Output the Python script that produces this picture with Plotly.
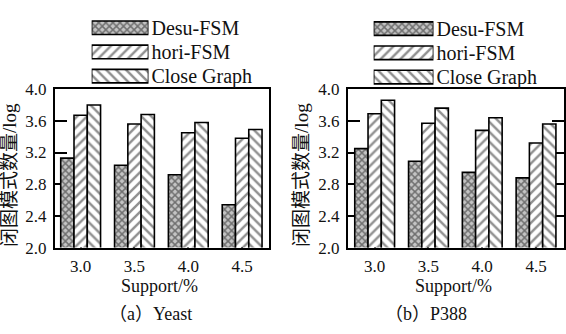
import plotly.graph_objects as go

W, H = 566, 334

support = [3.0, 3.5, 4.0, 4.5]
support_labels = ["3.0", "3.5", "4.0", "4.5"]
series_names = ["Desu-FSM", "hori-FSM", "Close Graph"]

yeast_desu = [3.13, 3.04, 2.92, 2.54]
yeast_hori = [3.67, 3.56, 3.45, 3.38]
yeast_close = [3.80, 3.68, 3.58, 3.49]

p388_desu = [3.25, 3.09, 2.95, 2.88]
p388_hori = [3.69, 3.57, 3.48, 3.32]
p388_close = [3.86, 3.76, 3.64, 3.56]

y_ticks = [2.0, 2.4, 2.8, 3.2, 3.6, 4.0]
y_title = "闭图模式数量/log"
x_title = "Support/%"
captions = ["（a）Yeast", "（b）P388"]

FONT = "Liberation Serif"
CJK_FONT = "Liberation Serif, Noto Sans CJK SC"
INK = "#111111"

patterns = [
    dict(shape="x", fgcolor="#1a1a1a", bgcolor="#c4c4c4", size=5, solidity=0.5),
    dict(shape="/", fgcolor="#222222", bgcolor="#ffffff", size=7, solidity=0.35),
    dict(shape="\\", fgcolor="#222222", bgcolor="#ffffff", size=7, solidity=0.35),
]

def px_x(v):
    return v / W

def px_y(v):
    return 1 - v / H

fig = go.Figure()

panels = [
    dict(xa="x", ya="y", data=[yeast_desu, yeast_hori, yeast_close]),
    dict(xa="x2", ya="y2", data=[p388_desu, p388_hori, p388_close]),
]

for p in panels:
    for name, vals, pat in zip(series_names, p["data"], patterns):
        fig.add_trace(go.Bar(
            x=support, y=vals, name=name, showlegend=False,
            xaxis=p["xa"], yaxis=p["ya"],
            marker=dict(color="white", line=dict(color="black", width=1.6), pattern=pat),
        ))

# legend swatches drawn on small hidden axes (one per panel)
for xa, ya in [("x3", "y3"), ("x4", "y4")]:
    fig.add_trace(go.Bar(
        x=[1] * len(series_names), y=series_names, orientation="h", showlegend=False,
        width=0.56, xaxis=xa, yaxis=ya,
        marker=dict(
            color="white", line=dict(color="black", width=1.6),
            pattern=dict(
                shape=[p["shape"] for p in patterns],
                fgcolor=[p["fgcolor"] for p in patterns],
                bgcolor=[p["bgcolor"] for p in patterns],
                size=[p["size"] for p in patterns],
                solidity=[p["solidity"] for p in patterns],
            ),
        ),
    ))

def xaxis_cfg(dom, rng, anchor):
    return dict(
        domain=dom, range=rng, anchor=anchor,
        tickvals=support, ticktext=support_labels,
        ticks="inside", ticklen=14, tickwidth=1.5, tickcolor="black",
        showline=True, linecolor="black", linewidth=1.6, mirror=True,
        showgrid=False, zeroline=False, ticklabelstandoff=2, layer="below traces",
        tickfont=dict(family=FONT, size=17, color=INK),
    )

def yaxis_cfg(dom, anchor, mirror):
    return dict(
        domain=dom, range=[2.0, 4.0], anchor=anchor,
        tickvals=y_ticks, ticktext=[f"{v:.1f}" for v in y_ticks],
        ticks="inside", ticklen=12, tickwidth=1.5, tickcolor="black",
        showline=True, linecolor="black", linewidth=1.6, mirror=mirror,
        showgrid=False, zeroline=False, ticklabelstandoff=3, layer="below traces",
        tickfont=dict(family=FONT, size=17, color=INK),
    )

ydom = [px_y(253), px_y(85)]

def leg_x(dom, anchor):
    return dict(domain=dom, range=[0, 1], anchor=anchor, visible=False, fixedrange=True)

def leg_y(dom, anchor):
    return dict(
        domain=dom, type="category", range=[2.5, -0.5], anchor=anchor, side="right",
        showline=False, ticks="", showgrid=False, zeroline=False, ticklabelstandoff=2,
        tickfont=dict(family=FONT, size=20, color=INK),
    )

fig.update_layout(
    width=W, height=H, autosize=False,
    margin=dict(l=0, r=0, t=0, b=0),
    paper_bgcolor="white", plot_bgcolor="rgba(0,0,0,0)",
    barmode="group", bargap=0.26, bargroupgap=0,
    xaxis=xaxis_cfg([px_x(55), px_x(270)], [2.76, 4.75], "y"),
    yaxis=yaxis_cfg(ydom, "x", True),
    xaxis2=xaxis_cfg([px_x(349), 1.0], [2.75, 4.76], "y2"),
    yaxis2=yaxis_cfg(ydom, "x2", "allticks"),
    xaxis3=leg_x([px_x(92), px_x(149)], "y3"),
    yaxis3=leg_y([px_y(84), px_y(7)], "x3"),
    xaxis4=leg_x([px_x(375), px_x(435)], "y4"),
    yaxis4=leg_y([px_y(85), px_y(8)], "x4"),
)

annots = []
for cx, tx in [(10, 160), (303, 455)]:
    annots.append(dict(text=y_title, x=px_x(cx), y=px_y(176), xref="paper", yref="paper",
                       textangle=-90, showarrow=False, xanchor="center", yanchor="middle",
                       font=dict(family=CJK_FONT, size=19, color=INK)))
    annots.append(dict(text=x_title, x=px_x(tx), y=px_y(294), xref="paper", yref="paper",
                       showarrow=False, xanchor="center", yanchor="middle",
                       font=dict(family=FONT, size=18, color=INK)))
for cap, cx in zip(captions, [151, 428]):
    annots.append(dict(text=cap, x=px_x(cx), y=px_y(323), xref="paper", yref="paper",
                       showarrow=False, xanchor="center", yanchor="middle",
                       font=dict(family=CJK_FONT, size=18, color=INK)))
fig.update_layout(annotations=annots)

fig.write_html("out.html", config={"displayModeBar": False},
               post_script="document.body.style.margin='0';")
